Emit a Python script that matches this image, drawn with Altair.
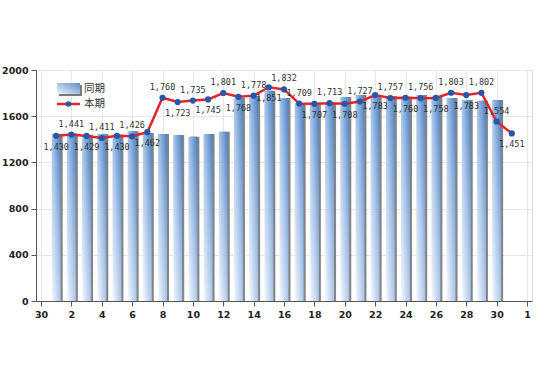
import altair as alt
import pandas as pd

# ---- data ----
days = list(range(1, 32))
current = [1430, 1441, 1429, 1411, 1430, 1426, 1462, 1760, 1723, 1735, 1745, 1801,
           1768, 1778, 1851, 1832, 1709, 1707, 1713, 1708, 1727, 1783, 1757, 1760,
           1756, 1758, 1803, 1783, 1802, 1554, 1451]
bar_days = list(range(1, 31))
previous = [1445, 1450, 1440, 1445, 1440, 1470, 1455, 1445, 1437, 1422, 1446, 1466,
            1760, 1775, 1820, 1757, 1715, 1710, 1714, 1766, 1783, 1770, 1775, 1768,
            1783, 1775, 1757, 1740, 1734, 1740]
label_side = ["below", "above", "below", "above", "below", "above", "below", "above",
              "below", "above", "below", "above", "below", "above", "below", "above",
              "above", "below", "above", "below", "above", "below", "above", "below",
              "above", "below", "above", "below", "above", "above", "below"]
x_tick_values = list(range(0, 33, 2))
x_tick_labels = ["30", "2", "4", "6", "8", "10", "12", "14", "16", "18", "20",
                 "22", "24", "26", "28", "30", "1"]
y_tick_values = [0, 400, 800, 1200, 1600, 2000]
series_names = ["同期", "本期"]

line_df = pd.DataFrame({"day": days, "value": current, "side": label_side})
line_df["label"] = line_df["value"].map(lambda v: f"{v:,}")
bar_df = pd.DataFrame({"day": bar_days, "value": previous})

label_expr = "[" + ",".join(f"'{s}'" for s in x_tick_labels) + "][datum.value/2]"

x_enc = alt.X("day:Q", scale=alt.Scale(domain=[0, 32], nice=False, zero=False),
              axis=alt.Axis(values=x_tick_values, labelExpr=label_expr, title=None,
                            grid=True, tickSize=5, labelPadding=3))
y_enc = alt.Y("value:Q", scale=alt.Scale(domain=[0, 2000], nice=False),
              axis=alt.Axis(values=y_tick_values, format="d", title=None, grid=True,
                            tickSize=5, labelPadding=3))

bar_grad = alt.Gradient(
    gradient="linear", x1=0, y1=1, x2=1, y2=0,
    stops=[alt.GradientStop(color="#f7faff", offset=0),
           alt.GradientStop(color="#aac5e8", offset=0.5),
           alt.GradientStop(color="#4a7fc2", offset=1)])

shadow = alt.Chart(bar_df).mark_bar(size=9, xOffset=2, color="#6e6e6e", opacity=0.85).encode(
    x=x_enc, y=y_enc)
bars = alt.Chart(bar_df).mark_bar(size=9, color=bar_grad).encode(x=x_enc, y=y_enc)

line = alt.Chart(line_df).mark_line(color="#e3242b", strokeWidth=2.5).encode(x=x_enc, y=y_enc)
points = alt.Chart(line_df).mark_point(shape="circle", filled=True, size=38,
                                        color="#2457a8", opacity=1).encode(x=x_enc, y=y_enc)

label_style = dict(font="DejaVu Sans Mono", fontSize=8.5, color="#333333", baseline="middle")
labels_above = alt.Chart(line_df).transform_filter("datum.side == 'above'").mark_text(
    dy=-11, **label_style).encode(x=x_enc, y=y_enc, text="label:N")
labels_below = alt.Chart(line_df).transform_filter("datum.side == 'below'").mark_text(
    dy=11, **label_style).encode(x=x_enc, y=y_enc, text="label:N")

# ---- legend (drawn manually) ----
leg_df = pd.DataFrame({"name": series_names})
prev_leg = leg_df[leg_df["name"] == series_names[0]]
cur_leg = leg_df[leg_df["name"] == series_names[1]]
leg_shadow = alt.Chart(prev_leg).mark_rect(color="#7a7a7a").encode(
    x=alt.value(23), x2=alt.value(46), y=alt.value(15), y2=alt.value(26))
leg_rect = alt.Chart(prev_leg).mark_rect(
    color=alt.Gradient(gradient="linear", x1=0, y1=1, x2=1, y2=0,
                       stops=[alt.GradientStop(color="#f2f6fc", offset=0),
                              alt.GradientStop(color="#5d8ccb", offset=1)])).encode(
    x=alt.value(21), x2=alt.value(44), y=alt.value(13), y2=alt.value(24))
leg_line = alt.Chart(cur_leg).mark_rule(color="#e3242b", strokeWidth=2.5).encode(
    x=alt.value(21), x2=alt.value(44), y=alt.value(34))
leg_pt = alt.Chart(cur_leg).mark_point(
    shape="circle", filled=True, size=30, color="#2457a8", opacity=1).encode(
    x=alt.value(32.5), y=alt.value(34))
text_style = dict(align="left", baseline="middle", font="Noto Sans CJK SC",
                  fontSize=10.5, color="#333333")
leg_text1 = alt.Chart(prev_leg).mark_text(**text_style).encode(
    x=alt.value(48), y=alt.value(19), text="name:N")
leg_text2 = alt.Chart(cur_leg).mark_text(**text_style).encode(
    x=alt.value(48), y=alt.value(34), text="name:N")

chart = alt.layer(
    shadow, bars, line, points, labels_above, labels_below,
    leg_shadow, leg_rect, leg_line, leg_pt, leg_text1, leg_text2
).properties(
    width=496, height=231,
    padding={"left": 36, "top": 70, "right": 4, "bottom": 89},
    autosize="none",
    background="white",
).configure_view(stroke="#d9d9d9", strokeWidth=1).configure_axis(
    labelFont="DejaVu Sans", labelFontSize=9.5, labelFontWeight="bold", labelColor="#222222",
    domainColor="#555555", tickColor="#555555", gridColor="#e6e6e6", gridWidth=1,
)

chart.save("out.html", embed_options={"renderer": "svg", "actions": False})
